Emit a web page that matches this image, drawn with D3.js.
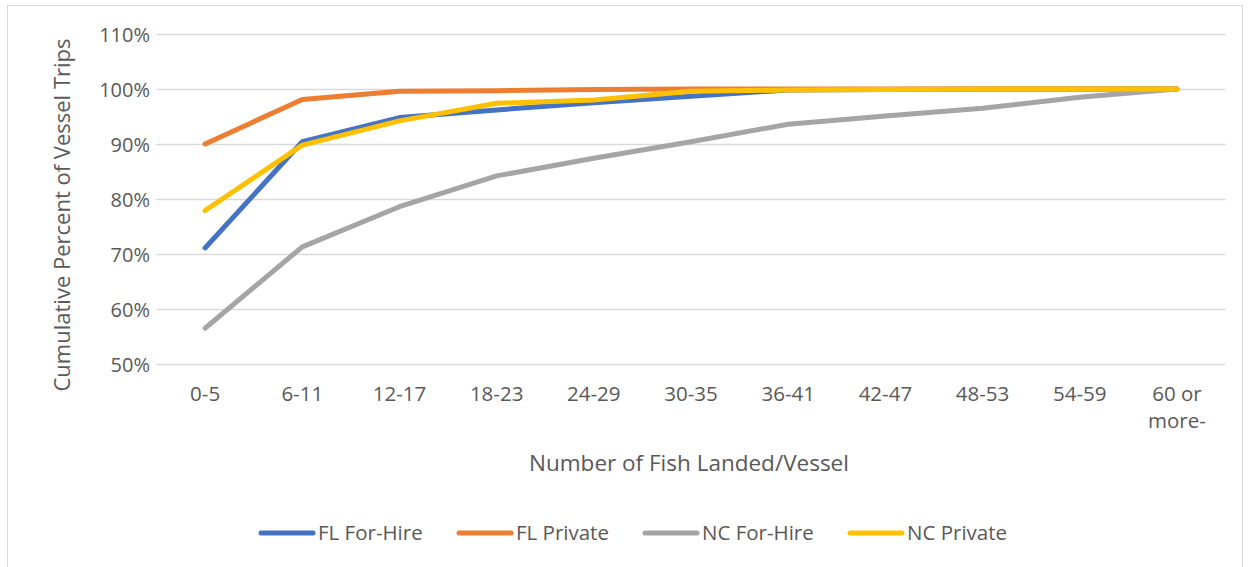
<!DOCTYPE html>
<html><head><meta charset="utf-8">
<script src="https://cdn.jsdelivr.net/npm/d3@7"></script>
<style>body{margin:0;background:#fff;}svg text{font-family:"Open Sans",sans-serif;fill:#595959;}</style>
</head><body>
<svg id="c" width="1250" height="567"></svg>
<script>
const categories = ["0-5","6-11","12-17","18-23","24-29","30-35","36-41","42-47","48-53","54-59","60 or more-"];
const seriesNames = ["FL For-Hire","FL Private","NC For-Hire","NC Private"];
const flForHire = [71.1, 90.4, 94.8, 96.2, 97.5, 98.7, 99.8, 99.9, 100, 100, 100];
const flPrivate = [90.0, 98.1, 99.6, 99.7, 99.9, 100, 100, 100, 100, 100, 100];
const ncForHire = [56.5, 71.3, 78.6, 84.2, 87.4, 90.4, 93.6, 95.1, 96.5, 98.5, 100];
const ncPrivate = [77.9, 89.8, 94.2, 97.4, 98.0, 99.6, 99.8, 99.9, 100, 100, 100];
const yTicks = [50,60,70,80,90,100,110];
const colors = ["#4472C4","#ED7D31","#A5A5A5","#FFC000"];
const seriesData = [flForHire, flPrivate, ncForHire, ncPrivate];

const svg = d3.select("#c");
svg.append("rect").attr("x",7.5).attr("y",5.5).attr("width",1235).attr("height",570)
  .attr("fill","#fff").attr("stroke","#d9d9d9");

const x = d3.scaleBand().domain(categories).range([156.5,1225.5]);
const y = d3.scaleLinear().domain([50,110]).range([364,34]);

// gridlines
svg.append("g").selectAll("line").data(yTicks).join("line")
  .attr("x1",156.5).attr("x2",1225.5)
  .attr("y1",d=>Math.round(y(d))+0.5).attr("y2",d=>Math.round(y(d))+0.5)
  .attr("stroke","#d9d9d9").attr("stroke-width",1.5);

// y axis labels
const yAxis = d3.axisLeft(y).tickValues(yTicks).tickFormat(d=>d+"%").tickSize(0).tickPadding(0);
const yg = svg.append("g").attr("transform","translate(150,0)").call(yAxis);
yg.select(".domain").remove();
yg.selectAll("text").attr("font-size",20).attr("font-family","Open Sans").attr("fill","#595959").attr("dy","0.35em");

// x axis labels
const xAxis = d3.axisBottom(x).tickSize(0).tickPadding(0);
const xg = svg.append("g").attr("transform","translate(0,394)").call(xAxis);
xg.select(".domain").remove();
xg.selectAll("text").attr("font-size",20.5).attr("font-family","Open Sans").attr("fill","#595959")
  .attr("dy","0.35em").each(function(d){
    const t = d3.select(this);
    if (d === "60 or more-") {
      t.text(null);
      t.append("tspan").attr("x",0).attr("dy","0.35em").text("60 or");
      t.append("tspan").attr("x",0).attr("dy","1.3em").text("more-");
    }
  });

// axis titles
svg.append("text").attr("transform","translate(62,215) rotate(-90)").attr("text-anchor","middle")
  .attr("dy","0.35em").attr("font-size",22).text("Cumulative Percent of Vessel Trips");
svg.append("text").attr("x",689).attr("y",463).attr("dy","0.35em").attr("text-anchor","middle")
  .attr("font-size",22.5).text("Number of Fish Landed/Vessel");

// lines
const line = d3.line().x((d,i)=>x(categories[i])+x.bandwidth()/2).y(d=>y(d));
seriesData.forEach((s,k)=>{
  svg.append("path").datum(s).attr("d",line).attr("fill","none")
    .attr("stroke",colors[k]).attr("stroke-width",5)
    .attr("stroke-linecap","round").attr("stroke-linejoin","round");
});

// legend
const legX = [261, 459, 645, 850];
const lg = svg.append("g");
seriesNames.forEach((n,k)=>{
  lg.append("line").attr("x1",legX[k]).attr("x2",legX[k]+52).attr("y1",533).attr("y2",533)
    .attr("stroke",colors[k]).attr("stroke-width",5).attr("stroke-linecap","round");
  lg.append("text").attr("x",legX[k]+57).attr("y",533).attr("dy","0.35em")
    .attr("font-size",20.5).text(n);
});
</script>
</body></html>
